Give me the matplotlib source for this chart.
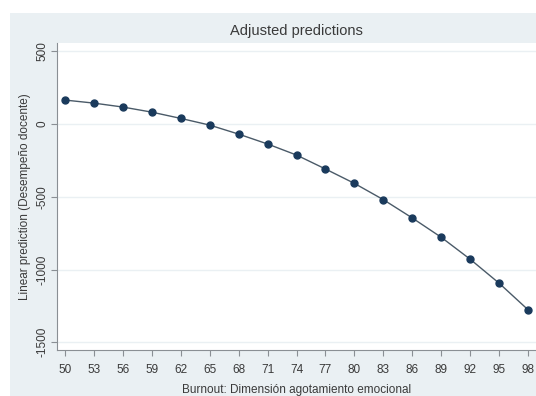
import matplotlib
matplotlib.use("Agg")
import matplotlib.pyplot as plt
from matplotlib.patches import Rectangle

plt.rcParams['font.family'] = ['Liberation Sans', 'DejaVu Sans']

# Predicted margins over burnout score
burnout = [50, 53, 56, 59, 62, 65, 68, 71, 74, 77, 80, 83, 86, 89, 92, 95, 98]
prediction = [165, 144, 117, 82, 39, -7, -69, -137, -213, -309, -408, -520,
              -646, -779, -930, -1095, -1278]
y_ticks = [500, 0, -500, -1000, -1500]

W, H = 536, 396
fig = plt.figure(figsize=(W / 100, H / 100), dpi=100)
fig.patch.set_facecolor('white')

# graph region background
bg = Rectangle((10 / W, 0), 1, 1 - 13 / H, transform=fig.transFigure,
               facecolor='#eaf0f3', edgecolor='none', zorder=-10)
fig.add_artist(bg)

left, right, top, bottom = 57, 536, 43, 350
ax = fig.add_axes([left / W, 1 - bottom / H, (right - left) / W, (bottom - top) / H])
ax.set_zorder(5)
ax.set_facecolor('white')

navy = '#1a3a5c'
ax.plot(burnout, prediction, color='#4a5a68', lw=1.0, zorder=3)
ax.plot(burnout, prediction, 'o', color=navy, ms=5, zorder=4)

ax.set_xlim(49.2, 98.8)
ax.set_ylim(-1553, 557)
ax.set_xticks(burnout)
ax.set_yticks(y_ticks)
ax.set_yticklabels([str(v) for v in y_ticks], rotation=90, va='center')
ax.grid(axis='y', color='#eaf0f3', lw=1.0)
ax.set_axisbelow(True)

for s in ['top', 'right']:
    ax.spines[s].set_visible(False)
for s in ['left', 'bottom']:
    ax.spines[s].set_color('#8a8f94')
    ax.spines[s].set_linewidth(0.8)

ax.tick_params(axis='both', colors='#8a8f94', labelcolor='#3a3a3a', labelsize=8.5,
               length=4, width=0.8)
ax.tick_params(axis='x', pad=6)
ax.tick_params(axis='y', pad=2)

ax.set_title('Adjusted predictions', fontsize=10.5, color='#3a3a3a', pad=6)
ax.set_ylabel('Linear prediction (Desempeño docente)', fontsize=8.5, color='#3a3a3a',
              labelpad=4)
ax.set_xlabel('Burnout: Dimensión agotamiento emocional', fontsize=8.5,
              color='#3a3a3a', labelpad=6)

fig.savefig('out.png', dpi=100, facecolor=fig.get_facecolor())
